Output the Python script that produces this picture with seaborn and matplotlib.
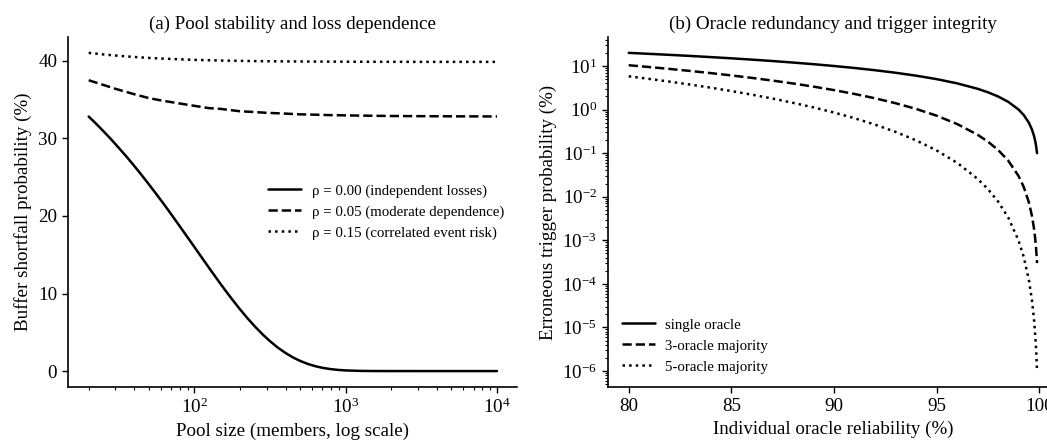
import numpy as np
import pandas as pd
import matplotlib
matplotlib.use("Agg")
import matplotlib.pyplot as plt
import seaborn as sns

# ==================================================
# DATA
# ==================================================
# panel (a): rho = 0.00 curve, sampled densely where it bends
pool_size_a = [20, 22, 25, 28, 32, 36, 40, 45, 50, 56, 63, 71, 80, 90, 100,
               112, 125, 141, 158, 178, 200, 224, 251, 282, 316, 355, 398,
               447, 501, 562, 631, 708, 794, 891, 1000, 1259, 1585, 2000,
               3000, 5000, 10000]
shortfall_rho000 = [32.82, 32.04, 30.94, 29.93, 28.67, 27.53, 26.46, 25.22,
                    24.08, 22.82, 21.49, 20.09, 18.67, 17.26, 15.99, 14.62,
                    13.30, 11.87, 10.55, 9.22, 7.97, 6.82, 5.75, 4.74, 3.85,
                    3.04, 2.36, 1.77, 1.30, 0.917, 0.622, 0.405, 0.253, 0.149,
                    0.0826, 0.0207, 0.0037, 0.0004, 0.0, 0.0, 0.0]
# panel (a): dependent-loss curves
pool_size_b = [20, 25, 30, 40, 50, 60, 80, 100, 125, 150, 200, 250, 300, 400,
               500, 600, 800, 1000, 1500, 2000, 3000, 5000, 10000]
shortfall_rho005 = [37.5, 36.9, 36.4, 35.7, 35.2, 34.9, 34.5, 34.2, 33.9, 33.8,
                    33.5, 33.4, 33.3, 33.2, 33.1, 33.07, 33.0, 32.97, 32.92,
                    32.89, 32.87, 32.85, 32.83]
shortfall_rho015 = [41.03, 40.83, 40.69, 40.50, 40.38, 40.30, 40.20, 40.13,
                    40.08, 40.04, 40.0, 39.97, 39.95, 39.93, 39.92, 39.91,
                    39.90, 39.89, 39.88, 39.88, 39.87, 39.87, 39.87]
rho_labels = ["ρ = 0.00 (independent losses)",
              "ρ = 0.05 (moderate dependence)",
              "ρ = 0.15 (correlated event risk)"]

# panel (b)
reliability = [80, 81, 82, 83, 84, 85, 86, 87, 88, 89, 90, 91, 92, 93, 94, 95,
               96, 97, 97.5, 98, 98.5, 99, 99.25, 99.5, 99.65, 99.75, 99.8,
               99.85, 99.9]
err_single = [20, 19, 18, 17, 16, 15, 14, 13, 12, 11, 10, 9, 8, 7, 6, 5, 4, 3,
              2.5, 2, 1.5, 1, 0.75, 0.5, 0.35, 0.25, 0.2, 0.15, 0.1]
err_three = [10.4, 9.458, 8.554, 7.687, 6.861, 6.075, 5.331, 4.631, 3.974,
             3.364, 2.8, 2.284, 1.818, 1.401, 1.037, 0.725, 0.467, 0.2646,
             0.1844, 0.1184, 0.06683, 0.0298, 0.01679, 0.007475, 0.0036664,
             0.0018719, 0.0011984, 0.0006743, 0.0002998]
err_five = [5.792, 5.053, 4.371, 3.745, 3.176, 2.661, 2.200, 1.791, 1.432,
            1.121, 0.856, 0.6341, 0.4525, 0.3080, 0.1970, 0.1158, 0.06022,
            0.0258, 0.015045, 0.0077619, 0.0032996, 0.00098506, 0.00041713,
            0.00012406, 4.265e-5, 1.5566e-5, 7.976e-6, 3.367e-6, 9.985e-7]
oracle_labels = ["single oracle", "3-oracle majority", "5-oracle majority"]

styles = ["-", "--", ":"]

# ==================================================
# STYLE
# ==================================================
sns.set_theme(style="ticks")
plt.rcParams["font.family"] = ["Liberation Serif", "DejaVu Serif"]
plt.rcParams["mathtext.fontset"] = "stix"
plt.rcParams.update({
    "axes.edgecolor": "black",
    "axes.linewidth": 1.2,
    "xtick.color": "black",
    "ytick.color": "black",
    "xtick.major.size": 4.5,
    "ytick.major.size": 4.5,
    "xtick.minor.size": 2.5,
    "ytick.minor.size": 2.5,
    "xtick.major.width": 1.0,
    "ytick.major.width": 1.0,
    "xtick.minor.width": 0.8,
    "ytick.minor.width": 0.8,
    "xtick.labelsize": 13.7,
    "ytick.labelsize": 13.7,
    "axes.labelsize": 13.7,
    "axes.titlesize": 13.7,
    "text.color": "black",
    "axes.labelcolor": "black",
})

fig = plt.figure(figsize=(10.47, 4.4), dpi=100)
ax1 = fig.add_axes([0.0652, 0.1205, 0.429, 0.7955])
ax2 = fig.add_axes([0.581, 0.1205, 0.429, 0.7955])

# ==================================================
# (a) pool stability
# ==================================================
for xs, vals, lab, ls in zip([pool_size_a, pool_size_b, pool_size_b],
                             [shortfall_rho000, shortfall_rho005, shortfall_rho015],
                             rho_labels, styles):
    df = pd.DataFrame({"n": xs, "p": vals})
    sns.lineplot(data=df, x="n", y="p", ax=ax1, color="black", linestyle=ls,
                 linewidth=1.8, label=lab)
ax1.set_xscale("log")
ax1.set_title("(a) Pool stability and loss dependence")
ax1.set_xlabel("Pool size (members, log scale)")
ax1.set_ylabel("Buffer shortfall probability (%)")
ax1.set_yticks([0, 10, 20, 30, 40])
ax1.legend(loc="center right", frameon=False, fontsize=10.75,
           bbox_to_anchor=(1.0, 0.5), handlelength=2.2, handletextpad=0.7)

# ==================================================
# (b) oracle redundancy
# ==================================================
for vals, lab, ls in zip([err_single, err_three, err_five], oracle_labels, styles):
    df = pd.DataFrame({"r": reliability, "e": vals})
    sns.lineplot(data=df, x="r", y="e", ax=ax2, color="black", linestyle=ls,
                 linewidth=1.8, label=lab)
ax2.set_yscale("log")
ax2.set_title("(b) Oracle redundancy and trigger integrity")
ax2.set_xlabel("Individual oracle reliability (%)")
ax2.set_ylabel("Erroneous trigger probability (%)")
ax2.set_xticks([80, 85, 90, 95, 100])
ax2.legend(loc="lower left", frameon=False, fontsize=10.75,
           handlelength=2.2, handletextpad=0.7)

for ax in (ax1, ax2):
    sns.despine(ax=ax)

fig.savefig("out.png", dpi=100)
